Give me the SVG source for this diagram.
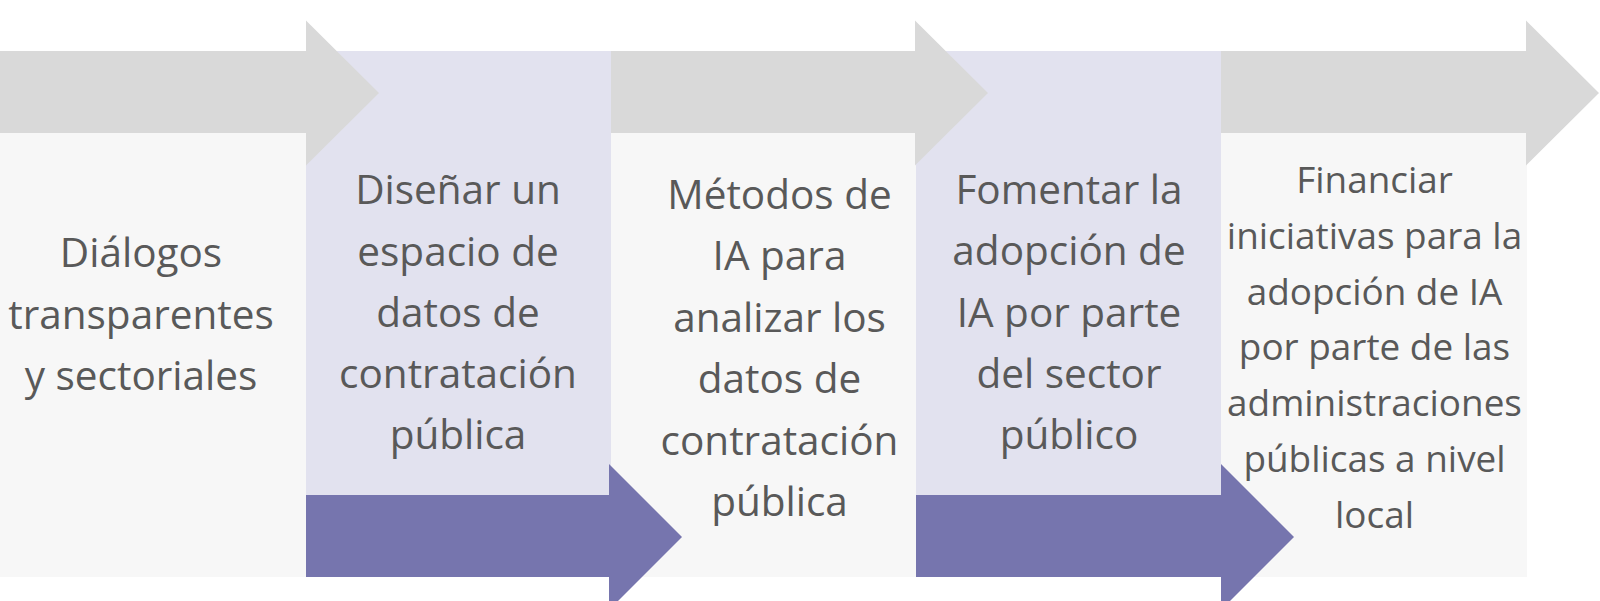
<svg xmlns="http://www.w3.org/2000/svg" width="1600" height="601" viewBox="0 0 1600 601">
<style>
.light{fill:#f7f7f7}
.lav{fill:#e2e2ef}
.gray{fill:#d9d9d9}
.purple{fill:#7675ae}
text{font-family:"Open Sans","Liberation Sans",sans-serif;fill:#595959;text-anchor:middle;font-size:40.5px}
.sm{font-size:36.9px}
</style>
<rect width="1600" height="601" fill="#ffffff"/>
<g id="col1">
<rect class="light" x="0" y="51" width="306" height="526"/>
</g>
<g id="col2">
<rect class="lav" x="306" y="51" width="305" height="526"/>
</g>
<g id="col3">
<rect class="light" x="611" y="51" width="305" height="526"/>
</g>
<g id="col4">
<rect class="lav" x="916" y="51" width="305" height="526"/>
</g>
<g id="col5">
<rect class="light" x="1221" y="51" width="306" height="526"/>
</g>
<g id="connectors">
<polygon class="gray" points="0,51 306,51 306,20.5 379,93 306,165.5 306,133 0,133"/>
<polygon class="gray" points="611,51 915,51 915,20.5 988,93 915,165.5 915,133 611,133"/>
<polygon class="gray" points="1221,51 1526,51 1526,20.5 1599,93 1526,165.5 1526,133 1221,133"/>
<polygon class="purple" points="306,495 609,495 609,464 682,537 609,610 609,577 306,577"/>
<polygon class="purple" points="916,495 1221,495 1221,464 1294,537 1221,610 1221,577 916,577"/>
</g>
<g id="text1">
<text x="141" y="267">Diálogos</text>
<text x="141" y="328.5">transparentes</text>
<text x="141" y="390">y sectoriales</text>
</g>
<g id="text2">
<text x="458" y="204">Diseñar un</text>
<text x="458" y="265.5">espacio de</text>
<text x="458" y="327">datos de</text>
<text x="458" y="388">contratación</text>
<text x="458" y="448.5">pública</text>
</g>
<g id="text3">
<text x="779.5" y="208.5">Métodos de</text>
<text x="779.5" y="270">IA para</text>
<text x="779.5" y="331.5">analizar los</text>
<text x="779.5" y="393">datos de</text>
<text x="779.5" y="454.5">contratación</text>
<text x="779.5" y="515.5">pública</text>
</g>
<g id="text4">
<text x="1069" y="203.5">Fomentar la</text>
<text x="1069" y="265">adopción de</text>
<text x="1069" y="326.5">IA por parte</text>
<text x="1069" y="388">del sector</text>
<text x="1069" y="448.5">público</text>
</g>
<g id="text5">
<text class="sm" x="1374.5" y="192.7">Financiar</text>
<text class="sm" x="1374.5" y="248.6">iniciativas para la</text>
<text class="sm" x="1374.5" y="304.5">adopción de IA</text>
<text class="sm" x="1374.5" y="360.4">por parte de las</text>
<text class="sm" x="1374.5" y="416.3">administraciones</text>
<text class="sm" x="1374.5" y="472.2">públicas a nivel</text>
<text class="sm" x="1374.5" y="528.1">local</text>
</g>
</svg>
